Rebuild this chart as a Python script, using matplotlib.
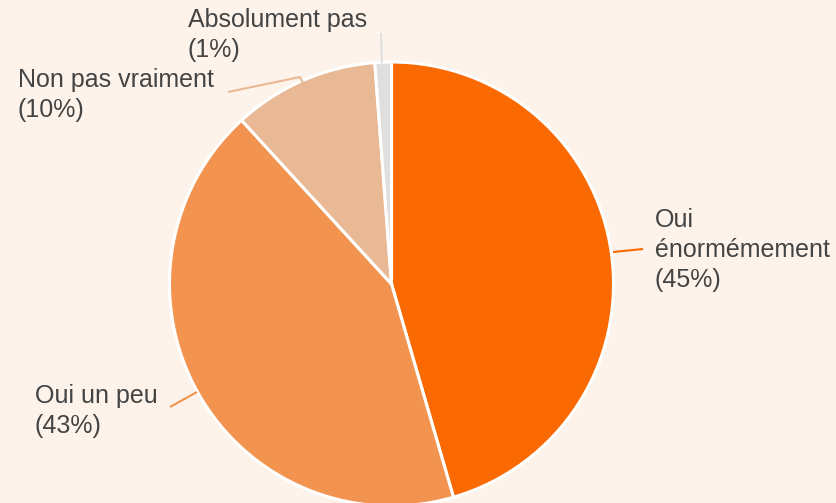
import matplotlib.pyplot as plt

# donnees
categories = ["Oui\nénormémement", "Oui un peu", "Non pas vraiment", "Absolument pas"]
pourcentages = [45.5, 42.7, 10.6, 1.2]
etiquettes_pct = ["(45%)", "(43%)", "(10%)", "(1%)"]
couleurs = ["#FB6A02", "#F2934F", "#E9B895", "#DFDFDF"]

W, H = 837, 503
fond = "#FDF3EA"
texte = "#444444"

fig = plt.figure(figsize=(W / 100, H / 100), dpi=100, facecolor=fond)
ax = fig.add_axes([0, 0, 1, 1])
ax.set_facecolor(fond)

cx, cy, r = 391.5, 284, 222
ax.pie(pourcentages, colors=couleurs, startangle=-90, counterclock=True,
       center=(cx, cy), radius=r, frame=True,
       wedgeprops=dict(edgecolor="white", linewidth=2.2))
ax.set_xlim(0, W)
ax.set_ylim(H, 0)  # coordonnees en pixels, y vers le bas
ax.set_aspect("equal")
ax.axis("off")

# traits de rappel
ax.plot([613, 643], [252, 249], color=couleurs[0], lw=1.5, solid_capstyle="butt")
ax.plot([170, 197], [407, 392], color=couleurs[1], lw=1.5, solid_capstyle="butt")
ax.plot([228, 300, 303], [92, 77, 83], color=couleurs[2], lw=1.5, solid_capstyle="butt")
ax.plot([381, 382], [33, 63], color=couleurs[3], lw=1.5, solid_capstyle="butt")

# etiquettes
fs = 18
kw = dict(fontsize=fs, color=texte, family="Liberation Sans", va="center", ha="left",
          linespacing=1.3)
ax.text(655, 250, categories[0] + "\n" + etiquettes_pct[0], **kw)
ax.text(35, 411, categories[1] + "\n" + etiquettes_pct[1], **kw)
ax.text(18, 95, categories[2] + "\n" + etiquettes_pct[2], **kw)
ax.text(188, 35, categories[3] + "\n" + etiquettes_pct[3], **kw)

fig.savefig("out.png", dpi=100, facecolor=fond)
